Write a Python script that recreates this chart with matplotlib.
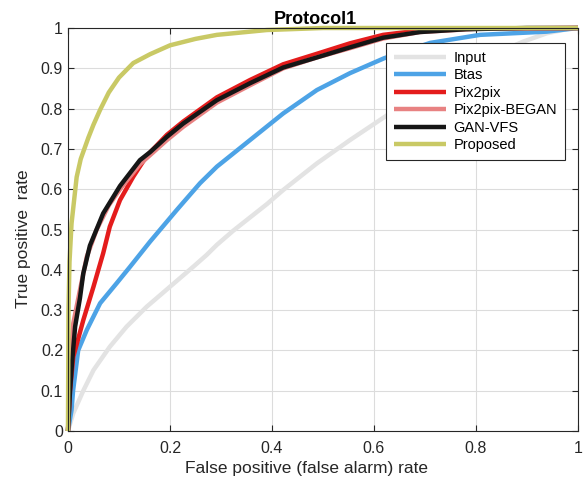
import numpy as np
import matplotlib
matplotlib.use("Agg")
import matplotlib.pyplot as plt
from matplotlib.ticker import FuncFormatter

plt.rcParams['font.family'] = ['Liberation Sans', 'DejaVu Sans']

# ROC curves (false positive rate, true positive rate)
input_fpr = [0, 0.0104, 0.03, 0.05, 0.082, 0.115, 0.154, 0.2, 0.246, 0.272, 0.292, 0.324, 0.357, 0.39,
             0.422, 0.455, 0.488, 0.553, 0.631, 0.7, 0.78, 0.85, 0.892, 0.939, 0.99, 1.0]
input_tpr = [0, 0.044, 0.1, 0.151, 0.209, 0.259, 0.308, 0.358, 0.408, 0.437, 0.462, 0.497, 0.53, 0.563,
             0.598, 0.631, 0.664, 0.722, 0.788, 0.84, 0.905, 0.943, 0.966, 0.987, 1.0, 1.0]

btas_fpr = [0, 0.007, 0.01, 0.02, 0.037, 0.063, 0.095, 0.122, 0.161, 0.213, 0.226, 0.259, 0.292, 0.357,
            0.422, 0.488, 0.553, 0.62, 0.71, 0.808, 0.939, 1.0]
btas_tpr = [0, 0.052, 0.1, 0.2, 0.251, 0.317, 0.366, 0.408, 0.47, 0.548, 0.567, 0.615, 0.656, 0.722,
            0.788, 0.846, 0.888, 0.925, 0.963, 0.983, 0.991, 1.0]

pix2pix_fpr = [0, 0.004, 0.0104, 0.03, 0.05, 0.069, 0.082, 0.102, 0.128, 0.154, 0.194, 0.226, 0.292,
               0.357, 0.422, 0.488, 0.553, 0.618, 0.69, 0.8, 1.0]
pix2pix_tpr = [0, 0.1, 0.184, 0.275, 0.358, 0.441, 0.507, 0.573, 0.631, 0.682, 0.735, 0.768, 0.828,
               0.871, 0.91, 0.936, 0.962, 0.983, 0.994, 0.999, 1.0]

began_fpr = [0, 0.004, 0.0104, 0.0235, 0.037, 0.056, 0.08, 0.102, 0.141, 0.194, 0.226, 0.292, 0.357,
             0.422, 0.488, 0.553, 0.618, 0.69, 0.8, 1.0]
began_tpr = [0, 0.15, 0.267, 0.35, 0.433, 0.499, 0.56, 0.6, 0.662, 0.722, 0.755, 0.815, 0.858,
             0.9, 0.927, 0.95, 0.974, 0.99, 0.998, 1.0]

ganvfs_fpr = [0, 0.004, 0.008, 0.014, 0.0235, 0.03, 0.043, 0.069, 0.102, 0.141, 0.161, 0.194, 0.226,
              0.292, 0.357, 0.422, 0.488, 0.553, 0.618, 0.69, 0.78, 0.9, 1.0]
ganvfs_tpr = [0, 0.1, 0.17, 0.259, 0.33, 0.391, 0.46, 0.54, 0.608, 0.672, 0.692, 0.73, 0.763,
              0.821, 0.863, 0.902, 0.927, 0.952, 0.976, 0.99, 0.997, 1.0, 1.0]

proposed_fpr = [0, 0.001, 0.003, 0.007, 0.017, 0.025, 0.04, 0.05, 0.063, 0.08, 0.1, 0.128, 0.161, 0.2,
                0.25, 0.292, 0.39, 0.5, 1.0]
proposed_tpr = [0, 0.3, 0.42, 0.515, 0.63, 0.675, 0.728, 0.76, 0.797, 0.84, 0.877, 0.913, 0.935, 0.957,
                0.973, 0.983, 0.995, 1.0, 1.0]

labels = ["Input", "Btas", "Pix2pix", "Pix2pix-BEGAN", "GAN-VFS", "Proposed"]
colors = ["#e3e3e3", "#4da3e6", "#e41c1c", "#e88282", "#161616", "#c9c965"]

curves = [(input_fpr, input_tpr), (btas_fpr, btas_tpr), (pix2pix_fpr, pix2pix_tpr),
          (began_fpr, began_tpr), (ganvfs_fpr, ganvfs_tpr), (proposed_fpr, proposed_tpr)]

fig = plt.figure(figsize=(5.84, 4.82), dpi=100)
ax = fig.add_axes([0.1164, 0.1058, 0.8733, 0.8361])

for (x, y), label, color in zip(curves, labels, colors):
    ax.plot(x, y, color=color, lw=3.2, label=label, solid_capstyle='butt', clip_on=False)

ax.set_xlim(0, 1)
ax.set_ylim(0, 1)
ax.set_xticks(np.arange(0, 1.01, 0.2))
ax.set_yticks(np.arange(0, 1.01, 0.1))
ax.xaxis.set_major_formatter(FuncFormatter(lambda v, p: "%g" % round(v, 2)))
ax.yaxis.set_major_formatter(FuncFormatter(lambda v, p: "%g" % round(v, 2)))
ax.grid(True, color="#dcdcdc", lw=0.8)
ax.set_axisbelow(True)
ax.tick_params(direction='in', top=True, right=True, labelsize=11.5, colors="#262626", length=4)
ax.tick_params(axis='x', pad=7)
for s in ax.spines.values():
    s.set_color("#262626")
    s.set_linewidth(0.8)

ax.set_title("Protocol1", fontsize=13, fontweight='bold', pad=3, x=0.485)
ax.set_xlabel("False positive (false alarm) rate", fontsize=12.5, color="#262626")
ax.xaxis.set_label_coords(0.467, -0.075)
ax.set_ylabel("True positive  rate", fontsize=12.5, color="#262626")
ax.yaxis.set_label_coords(-0.072, 0.476)

leg = ax.legend(loc='upper right', bbox_to_anchor=(0.975, 0.963), fontsize=10.5, handlelength=3.6,
                fancybox=False, framealpha=1, edgecolor="#262626", borderpad=0.55, labelspacing=0.24,
                handletextpad=0.5, borderaxespad=0)
leg.get_frame().set_linewidth(0.8)

fig.savefig("out.png", dpi=100)
